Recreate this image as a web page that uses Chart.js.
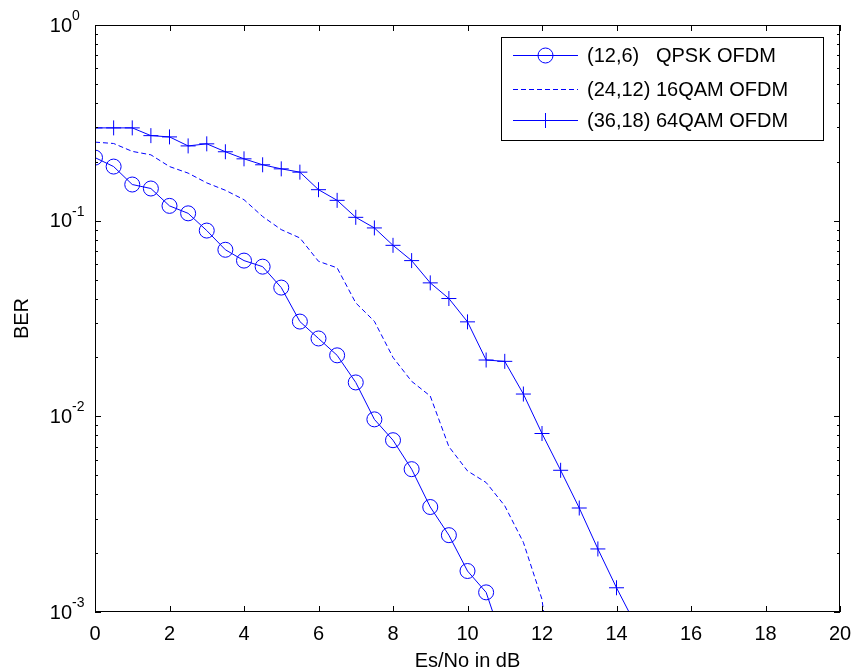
<!DOCTYPE html>
<html>
<head>
<meta charset="utf-8">
<script src="https://cdn.jsdelivr.net/npm/chart.js@4/dist/chart.umd.min.js"></script>
<style>
  body { margin: 0; background: #fff; }
  #wrap { width: 853px; height: 672px; }
</style>
</head>
<body>
<div id="wrap"><canvas id="berChart" width="853" height="672"></canvas></div>
<script>
// Es/No values (dB) and measured BER for each scheme
const snrQpsk = [0, 0.5, 1, 1.5, 2, 2.5, 3, 3.5, 4, 4.5, 5, 5.5, 6, 6.5, 7, 7.5, 8, 8.5, 9, 9.5, 10, 10.5, 11];
const berQpsk = [0.21, 0.189, 0.153, 0.146, 0.119, 0.109, 0.089, 0.071, 0.0625, 0.0582, 0.0455, 0.0305, 0.025,
                 0.0205, 0.0149, 0.00965, 0.00755, 0.00537, 0.00344, 0.00247, 0.00162, 0.00126, 0.00066];

const snr16 = [0, 0.5, 1, 1.5, 2, 2.5, 3, 3.5, 4, 4.5, 5, 5.5, 6, 6.5, 7, 7.5, 8, 8.5, 9, 9.5, 10, 10.5, 11, 11.5, 12, 12.5];
const ber16 = [0.252, 0.248, 0.226, 0.217, 0.189, 0.175, 0.156, 0.143, 0.128, 0.105, 0.09, 0.0816, 0.062, 0.0574,
               0.038, 0.0306, 0.020, 0.0151, 0.0127, 0.0070, 0.00526, 0.00459, 0.00349, 0.00227, 0.00116, 0.0002];

const snr64 = [0, 0.5, 1, 1.5, 2, 2.5, 3, 3.5, 4, 4.5, 5, 5.5, 6, 6.5, 7, 7.5, 8, 8.5, 9, 9.5, 10, 10.5, 11, 11.5,
               12, 12.5, 13, 13.5, 14, 14.5];
const ber64 = [0.298, 0.298, 0.298, 0.272, 0.268, 0.241, 0.247, 0.225, 0.207, 0.193, 0.184, 0.177, 0.144, 0.127,
               0.104, 0.0918, 0.0748, 0.0625, 0.0481, 0.040, 0.0304, 0.0194, 0.0191, 0.0130, 0.00817, 0.0053,
               0.0034, 0.0021, 0.00133, 0.00087];

const seriesNames = ["(12,6)   QPSK OFDM", "(24,12) 16QAM OFDM", "(36,18) 64QAM OFDM"];
const xTicks = [0, 2, 4, 6, 8, 10, 12, 14, 16, 18, 20];
const yDecades = [-3, -2, -1, 0];

const BLUE = "#0000ff";
const FONT = "Liberation Sans, Arial, Helvetica, sans-serif";

function toPoints(xs, ys) {
    return xs.map((x, i) => ({ x: x, y: ys[i] }));
}

// frame, inward ticks, y labels, axis titles and legend, matlab style
const matlabAxes = {
    id: "matlabAxes",
    afterDatasetsDraw(chart) {
        const ctx = chart.ctx;
        const a = chart.chartArea;
        const xs = chart.scales.x;
        const ys = chart.scales.y;
        ctx.save();
        ctx.strokeStyle = "#000";
        ctx.lineWidth = 1;
        ctx.strokeRect(a.left + 0.5, a.top + 0.5, a.right - a.left - 1, a.bottom - a.top - 1);

        ctx.beginPath();
        xTicks.forEach(v => {
            const px = Math.round(xs.getPixelForValue(v)) + 0.5;
            ctx.moveTo(px, a.bottom); ctx.lineTo(px, a.bottom - 6);
            ctx.moveTo(px, a.top); ctx.lineTo(px, a.top + 6);
        });
        yDecades.forEach(d => {
            for (let m = 1; m <= 9; m++) {
                const v = m * Math.pow(10, d);
                if (v > 1) continue;
                const len = m === 1 ? 6 : 3;
                const py = Math.round(ys.getPixelForValue(v)) + 0.5;
                ctx.moveTo(a.left, py); ctx.lineTo(a.left + len, py);
                ctx.moveTo(a.right, py); ctx.lineTo(a.right - len, py);
            }
        });
        ctx.stroke();

        // y tick labels 10^k
        ctx.fillStyle = "#000";
        yDecades.forEach(d => {
            const py = ys.getPixelForValue(Math.pow(10, d));
            ctx.font = "20px " + FONT;
            ctx.textAlign = "right";
            ctx.textBaseline = "middle";
            ctx.fillText("10", a.left - 23, py + 1);
            ctx.font = "14px " + FONT;
            ctx.textAlign = "left";
            ctx.fillText(String(d), a.left - 23, py - 9);
        });

        // axis titles
        ctx.font = "20px " + FONT;
        ctx.textAlign = "center";
        ctx.textBaseline = "middle";
        ctx.fillText("Es/No in dB", (a.left + a.right) / 2, 661);
        ctx.save();
        ctx.translate(22, (a.top + a.bottom) / 2);
        ctx.rotate(-Math.PI / 2);
        ctx.fillText("BER", 0, 0);
        ctx.restore();

        // legend
        const bx = 501, by = 37, bw = 322, bh = 103;
        ctx.fillStyle = "#fff";
        ctx.fillRect(bx, by, bw, bh);
        ctx.strokeStyle = "#000";
        ctx.strokeRect(bx + 0.5, by + 0.5, bw, bh);
        const rows = [55, 89, 120];
        chart.data.datasets.forEach((ds, i) => {
            const y = rows[i] + 0.5;
            ctx.strokeStyle = BLUE;
            ctx.lineWidth = 1;
            ctx.setLineDash(ds.borderDash || []);
            ctx.beginPath();
            ctx.moveTo(513, y); ctx.lineTo(578, y);
            ctx.stroke();
            ctx.setLineDash([]);
            const r = ds.pointRadius;
            if (ds.pointStyle === "circle" && r > 0) {
                ctx.beginPath();
                ctx.arc(545.5, y, r, 0, Math.PI * 2);
                ctx.stroke();
            } else if (ds.pointStyle === "cross" && r > 0) {
                ctx.beginPath();
                ctx.moveTo(545.5 - r, y); ctx.lineTo(545.5 + r, y);
                ctx.moveTo(545.5, y - r); ctx.lineTo(545.5, y + r);
                ctx.stroke();
            }
            ctx.fillStyle = "#000";
            ctx.font = "20px " + FONT;
            ctx.textAlign = "left";
            ctx.textBaseline = "middle";
            ctx.fillText(ds.label, 587, rows[i] + 1);
        });
        ctx.restore();
    }
};

const ctx = document.getElementById("berChart").getContext("2d");

new Chart(ctx, {
    type: "line",
    data: {
        datasets: [
            {
                label: seriesNames[0],
                data: toPoints(snrQpsk, berQpsk),
                borderColor: BLUE,
                borderWidth: 1,
                pointStyle: "circle",
                pointRadius: 7.5,
                pointBorderColor: BLUE,
                pointBackgroundColor: "rgba(0,0,0,0)",
                pointBorderWidth: 1
            },
            {
                label: seriesNames[1],
                data: toPoints(snr16, ber16),
                borderColor: BLUE,
                borderWidth: 1,
                borderDash: [5, 3],
                pointRadius: 0
            },
            {
                label: seriesNames[2],
                data: toPoints(snr64, ber64),
                borderColor: BLUE,
                borderWidth: 1,
                pointStyle: "cross",
                pointRadius: 7.5,
                pointBorderColor: BLUE,
                pointBorderWidth: 1
            }
        ]
    },
    options: {
        responsive: false,
        animation: false,
        layout: { padding: { top: 25, right: 13, left: 0, bottom: 0 } },
        elements: { line: { tension: 0 } },
        plugins: {
            legend: { display: false },
            tooltip: { enabled: false }
        },
        scales: {
            x: {
                type: "linear",
                min: 0,
                max: 20,
                afterBuildTicks: scale => { scale.ticks = xTicks.map(v => ({ value: v })); },
                afterFit: scale => {
                    scale.height = 60;
                    scale.paddingLeft = 0;
                    scale.paddingRight = 0;
                },
                grid: { display: false, drawTicks: false },
                border: { display: false },
                ticks: { color: "#000", padding: 10, font: { size: 20, family: FONT } }
            },
            y: {
                type: "logarithmic",
                min: 0.001,
                max: 1,
                afterFit: scale => { scale.width = 95; },
                grid: { display: false, drawTicks: false },
                border: { display: false },
                ticks: { display: false }
            }
        }
    },
    plugins: [matlabAxes]
});
</script>
</body>
</html>
